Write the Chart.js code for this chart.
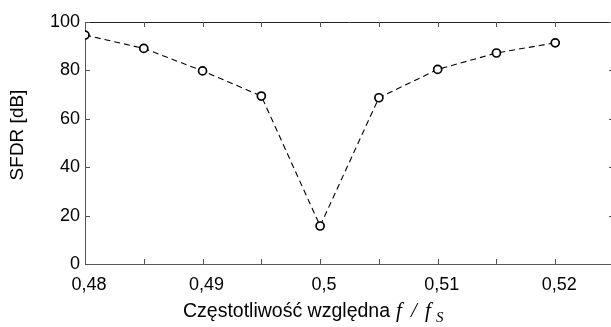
<!DOCTYPE html>
<html>
<head>
<meta charset="utf-8">
<script src="https://cdn.jsdelivr.net/npm/chart.js@4/dist/chart.umd.min.js"></script>
<style>
  html, body { margin: 0; padding: 0; background: #fff; overflow: hidden; }
  #wrap { position: relative; width: 614px; height: 327px; }
  canvas { display: block; }
</style>
</head>
<body>
<div id="wrap"><canvas id="chart" width="614" height="327"></canvas></div>
<script>
"use strict";
// data
const freq = [0.48, 0.485, 0.49, 0.495, 0.5, 0.505, 0.51, 0.515, 0.52];
const sfdr = [94.6, 89.1, 79.8, 69.4, 15.7, 68.7, 80.4, 87.2, 91.4];
const xLabels = [0.48, 0.49, 0.5, 0.51, 0.52];
const yLabels = [0, 20, 40, 60, 80, 100];

const sans = "'Liberation Sans', Arial, sans-serif";
const serifIt = "'Liberation Serif', 'Times New Roman', serif";

// inward tick marks, top/right frame and the axis titles
const framePlugin = {
    id: "frame",
    afterDraw(chart) {
        const ctx = chart.ctx;
        const a = chart.chartArea;
        const xs = chart.scales.x, ys = chart.scales.y;
        ctx.save();
        ctx.strokeStyle = "#222";
        ctx.lineWidth = 1;
        // top border
        ctx.beginPath();
        ctx.moveTo(a.left, a.top + 0.5);
        ctx.lineTo(a.right, a.top + 0.5);
        ctx.stroke();
        ctx.strokeStyle = "#555";
        ctx.beginPath();
        xs.ticks.forEach(t => {
            const px = Math.round(xs.getPixelForValue(t.value)) + 0.5;
            ctx.moveTo(px, a.bottom); ctx.lineTo(px, a.bottom - 5);
            ctx.moveTo(px, a.top); ctx.lineTo(px, a.top + 5);
        });
        ys.ticks.forEach(t => {
            const py = Math.round(ys.getPixelForValue(t.value)) + 0.5;
            ctx.moveTo(a.left, py); ctx.lineTo(a.left + 5, py);
            ctx.moveTo(a.right, py); ctx.lineTo(a.right - 5, py);
        });
        ctx.stroke();

        // y title
        ctx.fillStyle = "#000";
        ctx.font = "19px " + sans;
        ctx.textAlign = "center";
        ctx.textBaseline = "middle";
        ctx.save();
        ctx.translate(18, (a.top + a.bottom) / 2 - 8);
        ctx.rotate(-Math.PI / 2);
        ctx.fillText("SFDR [dB]", 0, 0);
        ctx.restore();

        // x title with italic f / f_S
        ctx.textAlign = "left";
        ctx.textBaseline = "alphabetic";
        let x = 183;
        const base = 317;
        ctx.font = "19.5px " + sans;
        const main = "Częstotliwość względna";
        ctx.fillText(main, x, base);
        x += ctx.measureText(main).width + 6;
        ctx.font = "italic 21px " + serifIt;
        ctx.fillText("f", x, base);
        ctx.fillText("/", x + 15, base);
        ctx.fillText("f", x + 29, base);
        ctx.font = "italic 15px " + serifIt;
        ctx.fillText("S", x + 40, base + 5);
        ctx.restore();
    }
};

const canvas = document.getElementById("chart");
const ctx = canvas.getContext("2d");

const config = {
    type: "scatter",
    data: {
        datasets: [{
            label: "SFDR",
            data: freq.map((f, i) => ({ x: f, y: sfdr[i] })),
            showLine: true,
            borderColor: "#000",
            borderWidth: 1.1,
            borderDash: [6, 4],
            pointRadius: 4,
            pointBorderWidth: 1.7,
            pointBackgroundColor: "#fff",
            pointBorderColor: "#000"
        }]
    },
    options: {
        responsive: false,
        animation: false,
        layout: { autoPadding: false, padding: { top: 22, right: 0, left: 0, bottom: 0 } },
        plugins: {
            legend: { display: false },
            tooltip: { enabled: false }
        },
        scales: {
            x: {
                type: "linear",
                min: 0.48,
                max: 0.525,
                afterFit(scale) { scale.height = 63; },
                afterBuildTicks(scale) {
                    const t = [];
                    for (let i = 0; i <= 8; i++) t.push({ value: 0.48 + i * 0.005 });
                    scale.ticks = t;
                },
                grid: { display: false, drawTicks: false },
                border: { display: true, color: "#555", width: 1 },
                ticks: {
                    padding: 10,
                    labelOffset: 4,
                    maxRotation: 0,
                    autoSkip: false,
                    color: "#000",
                    font: { size: 18, family: sans },
                    callback(v) {
                        const hit = xLabels.find(l => Math.abs(l - v) < 1e-6);
                        return hit === undefined ? "" : String(hit).replace(".", ",");
                    }
                }
            },
            y: {
                min: 0,
                max: 100,
                afterFit(scale) { scale.width = 85; },
                afterBuildTicks(scale) {
                    scale.ticks = yLabels.map(v => ({ value: v }));
                },
                grid: { display: false, drawTicks: false },
                border: { display: true, color: "#555", width: 1 },
                ticks: {
                    padding: 5,
                    color: "#000",
                    font: { size: 18, family: sans }
                }
            }
        }
    },
    plugins: [framePlugin]
};

const chart = new Chart(ctx, config);
</script>
</body>
</html>
